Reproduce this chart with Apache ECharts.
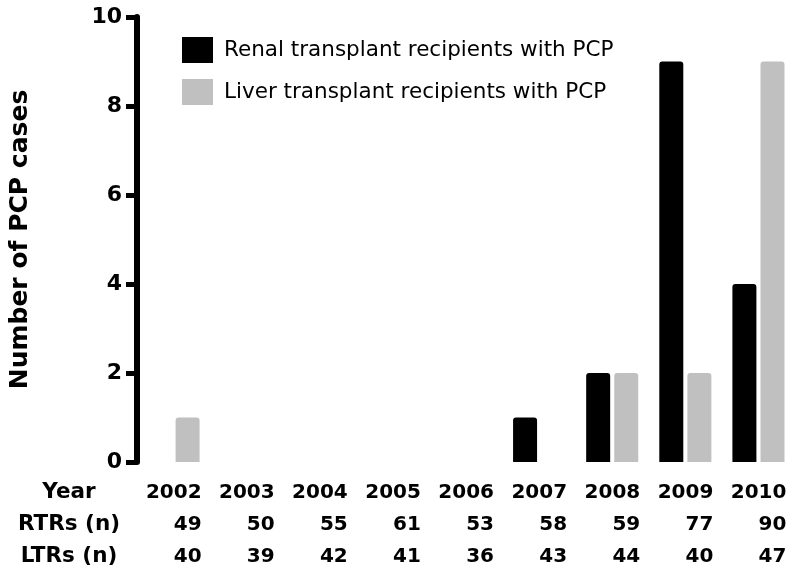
<!DOCTYPE html>
<html><head><meta charset="utf-8">
<script src="https://cdn.jsdelivr.net/npm/echarts@6/dist/echarts.min.js"></script>
<style>html,body{margin:0;padding:0;background:#fff}#c{width:795px;height:574px}</style>
</head><body><div id="c"></div>
<script>
const years = ['2002','2003','2004','2005','2006','2007','2008','2009','2010'];
const renalPCP = [0,0,0,0,0,1,2,9,4];
const liverPCP = [1,0,0,0,0,0,2,2,9];
const rtrN = [49,50,55,61,53,58,59,77,90];
const ltrN = [40,39,42,41,36,43,44,40,47];
const rowLabels = ['Year','RTRs (n)','LTRs (n)'];
const seriesNames = ['Renal transplant recipients with PCP','Liver transplant recipients with PCP'];
const yTicks = [0,2,4,6,8,10];

const FF = '"DejaVu Sans", "Liberation Sans", Arial, sans-serif';
const chart = echarts.init(document.getElementById('c'));
const rowStyle = {fontFamily: FF, fontWeight: 'bold', fontSize: 20, lineHeight: 32, width: 56, align: 'right', color: '#000'};
chart.setOption({
  animation: false,
  textStyle: {fontFamily: FF},
  grid: {left: 131, right: 0, top: 17, bottom: 112, containLabel: false},
  legend: {
    orient: 'vertical', left: 182, top: 37, padding: 0, itemWidth: 31, itemHeight: 26, itemGap: 16,
    icon: 'rect',
    textStyle: {fontFamily: FF, fontSize: 21.5, color: '#000', padding: [0,0,0,6]},
    data: seriesNames
  },
  xAxis: {
    type: 'category', data: years,
    axisLine: {show: false}, axisTick: {show: false},
    axisLabel: {
      interval: 0, margin: 15,
      formatter: (v, i) => '{a|' + v + '}\n{a|' + rtrN[i] + '}\n{a|' + ltrN[i] + '}',
      rich: {a: rowStyle}
    }
  },
  yAxis: {
    type: 'value', min: 0, max: 10, interval: 2,
    name: 'Number of PCP cases', nameLocation: 'middle', nameRotate: 90, nameGap: 104,
    nameTextStyle: {fontFamily: FF, fontWeight: 'bold', fontSize: 25, color: '#000'},
    axisLine: {show: true, lineStyle: {color: '#000', width: 6}},
    axisTick: {show: true, length: 11, lineStyle: {color: '#000', width: 5}},
    splitLine: {show: false},
    axisLabel: {
      margin: 15, fontFamily: FF, fontWeight: 'bold', fontSize: 22, color: '#000',
      formatter: v => yTicks.includes(v) ? String(v) : ''
    }
  },
  series: [
    {name: seriesNames[0], type: 'bar', data: renalPCP, barWidth: 24, barGap: '17%',
     itemStyle: {color: '#000', borderRadius: [3,3,0,0]}},
    {name: seriesNames[1], type: 'bar', data: liverPCP, barWidth: 24,
     itemStyle: {color: '#c0c0c0', borderRadius: [3,3,0,0]}}
  ],
  graphic: rowLabels.map((t, i) => ({
    type: 'text', x: 69, y: 492 + i * 32,
    style: {text: t, font: 'bold 21.5px ' + FF, fill: '#000', textAlign: 'center', textVerticalAlign: 'middle'}
  }))
});
</script></body></html>
